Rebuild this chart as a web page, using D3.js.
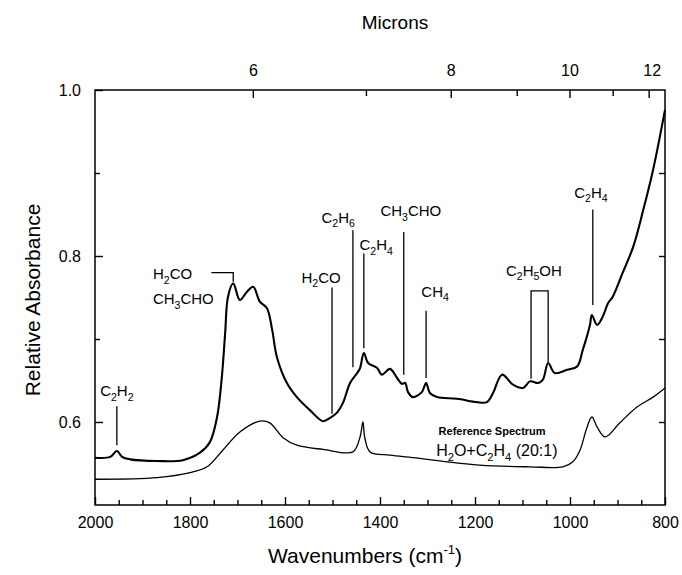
<!DOCTYPE html>
<html>
<head>
  <meta charset="utf-8" />
  <script src="https://d3js.org/d3.v7.min.js"></script>
  <style>
    * { margin: 0; padding: 0; }
    body { background: #fff; }
    svg, svg text { font-family: "Liberation Sans", Arial, sans-serif; }
    .axis path, .axis line { stroke: #000; stroke-width: 1.4px; }
    .axis text { font-size: 16px; fill: #000; font-family: "Liberation Sans", Arial, sans-serif; }
  </style>
</head>
<body>
  <svg width="682" height="575"></svg>

  <script>
    // sample spectrum (wavenumber cm-1, relative absorbance)
    const sampleWn = [2000, 1968, 1954, 1943, 1926, 1869, 1815, 1779, 1758, 1743, 1733, 1726, 1720, 1709,
      1695, 1680, 1667, 1653, 1638, 1627, 1617, 1596, 1575, 1547, 1520, 1505, 1491, 1478, 1463, 1448,
      1442, 1434, 1425, 1406, 1396, 1379, 1364, 1354, 1347, 1341, 1331, 1312, 1303, 1295, 1280, 1238,
      1196, 1175, 1162, 1143, 1120, 1099, 1084, 1067, 1057, 1046, 1032, 1006, 985, 973, 958, 954, 943,
      931, 920, 910, 889, 867, 846, 825, 800];
    const sampleAbs = [0.557, 0.558, 0.565, 0.558, 0.555, 0.553, 0.554, 0.563, 0.576, 0.606, 0.654, 0.707, 0.751, 0.767,
      0.747, 0.757, 0.763, 0.745, 0.737, 0.711, 0.678, 0.647, 0.630, 0.614, 0.601, 0.605, 0.611, 0.623, 0.647, 0.659,
      0.665, 0.683, 0.671, 0.665, 0.657, 0.664, 0.653, 0.646, 0.647, 0.636, 0.630, 0.636, 0.647, 0.635, 0.630, 0.628,
      0.624, 0.624, 0.635, 0.657, 0.645, 0.641, 0.649, 0.647, 0.651, 0.671, 0.659, 0.663, 0.667, 0.687, 0.717, 0.729, 0.717,
      0.727, 0.743, 0.751, 0.780, 0.811, 0.855, 0.904, 0.976];

    // reference spectrum H2O+C2H4 (20:1)
    const refWn = [2000, 1869, 1800, 1764, 1731, 1695, 1653, 1632, 1604, 1575, 1520, 1457, 1442, 1436, 1432,
      1421, 1379, 1331, 1190, 1084, 1015, 994, 979, 964, 954, 943, 926, 895, 859, 825, 800];
    const refAbs = [0.531, 0.533, 0.539, 0.546, 0.566, 0.588, 0.601, 0.599, 0.581, 0.572, 0.567, 0.564, 0.582, 0.600, 0.581,
      0.564, 0.560, 0.557, 0.548, 0.546, 0.546, 0.552, 0.566, 0.594, 0.606, 0.594, 0.582, 0.599, 0.618, 0.630, 0.641];

    const wnTicks = [2000, 1800, 1600, 1400, 1200, 1000, 800];
    const absTicks = [0.6, 0.8, 1.0];
    const micronTicks = [6, 8, 10, 12];
    const micronMinor = [7, 9, 11];

    // single-line annotations: label parts [text, isSub], label position, line x and y-range
    const annLabels = [
      { parts: [["C", 0], ["2", 1], ["H", 0], ["2", 1]], wn: 1954, abs: 0.631, lineWn: 1954, y0: 0.619, y1: 0.572 },
      { parts: [["H", 0], ["2", 1], ["CO", 0]], wn: 1524, abs: 0.768, lineWn: 1501, y0: 0.762, y1: 0.610 },
      { parts: [["C", 0], ["2", 1], ["H", 0], ["6", 1]], wn: 1488, abs: 0.840, lineWn: 1457, y0: 0.831, y1: 0.666 },
      { parts: [["C", 0], ["2", 1], ["H", 0], ["4", 1]], wn: 1408, abs: 0.807, lineWn: 1434, y0: 0.803, y1: 0.689 },
      { parts: [["CH", 0], ["3", 1], ["CHO", 0]], wn: 1335, abs: 0.848, lineWn: 1350, y0: 0.829, y1: 0.657 },
      { parts: [["CH", 0], ["4", 1]], wn: 1284, abs: 0.751, lineWn: 1303, y0: 0.734, y1: 0.653 },
      { parts: [["C", 0], ["2", 1], ["H", 0], ["4", 1]], wn: 956, abs: 0.870, lineWn: 952, y0: 0.856, y1: 0.741 }
    ];

    const svg = d3.select("svg");
    const margin = { top: 90, right: 17, bottom: 70, left: 95 };
    const width = 682 - margin.left - margin.right;
    const height = 575 - margin.top - margin.bottom;
    const g = svg.append("g").attr("transform", `translate(${margin.left},${margin.top})`);

    const x = d3.scaleLinear().domain([2000, 800]).range([0, width]);
    const y = d3.scaleLinear().domain([0.5, 1.0]).range([height, 0]);

    // frame
    g.append("rect").attr("width", width).attr("height", height)
      .attr("fill", "none").attr("stroke", "#000").attr("stroke-width", 1.5);

    // bottom axis
    g.append("g").attr("class", "axis").attr("transform", `translate(0,${height})`)
      .call(d3.axisBottom(x).tickValues(wnTicks).tickSize(-8).tickPadding(12).tickFormat(d3.format("d")))
      .call(a => a.select(".domain").remove());
    g.append("g").attr("class", "axis").attr("transform", `translate(0,${height})`)
      .call(d3.axisBottom(x).tickValues(d3.range(1950, 800, -50).filter(d => d % 200)).tickSize(-5).tickFormat(""))
      .call(a => a.select(".domain").remove());

    // left axis
    g.append("g").attr("class", "axis")
      .call(d3.axisLeft(y).tickValues(absTicks).tickSize(-8).tickPadding(14).tickFormat(d3.format(".1f")))
      .call(a => a.select(".domain").remove());
    g.append("g").attr("class", "axis")
      .call(d3.axisLeft(y).tickValues([0.7, 0.9]).tickSize(-5).tickFormat(""))
      .call(a => a.select(".domain").remove());

    // right axis mirror ticks
    g.append("g").attr("class", "axis").attr("transform", `translate(${width},0)`)
      .call(d3.axisRight(y).tickValues([0.6, 0.7, 0.8, 0.9]).tickSize(-6).tickFormat(""))
      .call(a => a.select(".domain").remove());

    // top axis in microns
    const micronX = m => x(10000 / m);
    const topAxis = g.append("g").attr("class", "axis");
    topAxis.selectAll(".maj").data(micronTicks).join("line").attr("class", "maj")
      .attr("x1", micronX).attr("x2", micronX).attr("y1", 0).attr("y2", 8);
    topAxis.selectAll(".min").data(micronMinor).join("line").attr("class", "min")
      .attr("x1", micronX).attr("x2", micronX).attr("y1", 0).attr("y2", 6);
    topAxis.selectAll("text").data(micronTicks).join("text")
      .attr("x", d => micronX(d) + (d === 12 ? 3 : 0)).attr("y", -14)
      .attr("text-anchor", "middle").text(d => d);

    // axis titles
    svg.append("text").attr("x", 395).attr("y", 29).attr("text-anchor", "middle")
      .attr("font-size", 19).text("Microns");
    svg.append("text").attr("transform", "translate(40,300) rotate(-90)").attr("text-anchor", "middle")
      .attr("font-size", 21).text("Relative Absorbance");
    const xt = svg.append("text").attr("x", 365).attr("y", 563).attr("text-anchor", "middle").attr("font-size", 21);
    xt.append("tspan").text("Wavenumbers (cm");
    xt.append("tspan").attr("font-size", 13).attr("dy", -9).text("-1");
    xt.append("tspan").attr("dy", 9).text(")");

    // spectra
    const line = d3.line().x(d => x(d[0])).y(d => y(d[1])).curve(d3.curveCatmullRom.alpha(0.5));
    g.append("path").datum(d3.zip(refWn, refAbs)).attr("d", line)
      .attr("fill", "none").attr("stroke", "#000").attr("stroke-width", 1.3);
    g.append("path").datum(d3.zip(sampleWn, sampleAbs)).attr("d", line)
      .attr("fill", "none").attr("stroke", "#000").attr("stroke-width", 2.1);

    // formula text helper
    function formula(sel, parts, size) {
      parts.forEach(([t, sub], i) => {
        const prevSub = i > 0 && parts[i - 1][1];
        const ts = sel.append("tspan").text(t);
        if (sub) ts.attr("font-size", size * 0.7).attr("dy", size * 0.3);
        else if (prevSub) ts.attr("dy", -size * 0.3);
      });
    }

    const ann = g.append("g");
    annLabels.forEach(a => {
      const t = ann.append("text").attr("x", x(a.wn)).attr("y", y(a.abs))
        .attr("text-anchor", "middle").attr("font-size", 15);
      formula(t, a.parts, 15);
      ann.append("line").attr("x1", x(a.lineWn)).attr("x2", x(a.lineWn))
        .attr("y1", y(a.y0)).attr("y2", y(a.y1)).attr("stroke", "#000").attr("stroke-width", 1.3);
    });

    // H2CO / CH3CHO bracket label
    const t1 = ann.append("text").attr("x", x(1878)).attr("y", y(0.772)).attr("font-size", 15);
    formula(t1, [["H", 0], ["2", 1], ["CO", 0]], 15);
    const t2 = ann.append("text").attr("x", x(1878)).attr("y", y(0.742)).attr("font-size", 15);
    formula(t2, [["CH", 0], ["3", 1], ["CHO", 0]], 15);
    ann.append("path")
      .attr("d", `M${x(1755)},${y(0.780)}H${x(1709)}V${y(0.769)}`)
      .attr("fill", "none").attr("stroke", "#000").attr("stroke-width", 1.3);

    // C2H5OH bracket label
    const t3 = ann.append("text").attr("x", x(1076)).attr("y", y(0.776)).attr("text-anchor", "middle").attr("font-size", 15);
    formula(t3, [["C", 0], ["2", 1], ["H", 0], ["5", 1], ["OH", 0]], 15);
    ann.append("path")
      .attr("d", `M${x(1082)},${y(0.652)}V${y(0.758)}H${x(1046)}V${y(0.672)}`)
      .attr("fill", "none").attr("stroke", "#000").attr("stroke-width", 1.3);

    // reference spectrum label
    ann.append("text").attr("x", x(1164)).attr("y", y(0.584)).attr("text-anchor", "middle")
      .attr("font-size", 11).attr("font-weight", "bold").text("Reference Spectrum");
    const t4 = ann.append("text").attr("x", x(1154)).attr("y", y(0.559)).attr("text-anchor", "middle").attr("font-size", 16);
    formula(t4, [["H", 0], ["2", 1], ["O+C", 0], ["2", 1], ["H", 0], ["4", 1], [" (20:1)", 0]], 16);
  </script>
</body>
</html>
